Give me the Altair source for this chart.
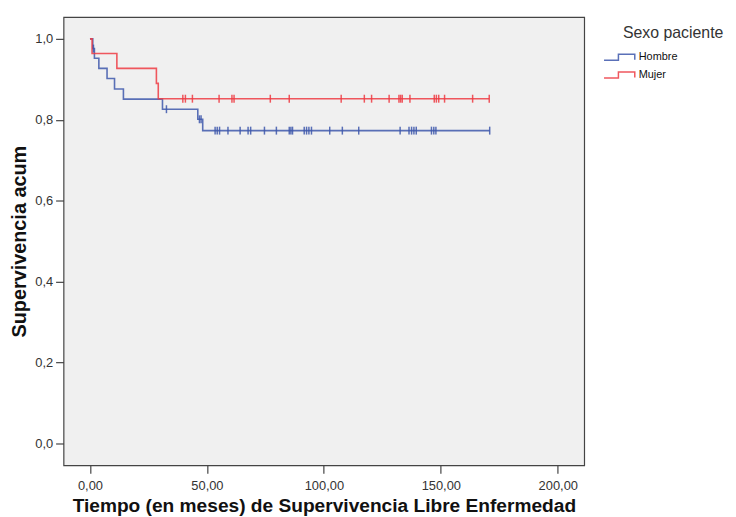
import altair as alt
import pandas as pd

# Kaplan-Meier step curves (time in months, cumulative survival)
groups = ["Hombre", "Mujer"]
legend_title = "Sexo paciente"
blue_t = [0, 1.2, 1.9, 3.8, 7.3, 10.5, 14.3, 31.0, 46.1, 48.2, 170.9]
blue_s = [1.0, 0.976, 0.952, 0.927, 0.902, 0.876, 0.851, 0.826, 0.801, 0.773, 0.773]
red_t = [0, 0.9, 11.5, 28.4, 29.2, 170.7]
red_s = [1.0, 0.964, 0.927, 0.890, 0.852, 0.852]

# censored observations (time)
blue_cens = [1.5, 32.7, 46.8, 47.5, 53.5, 54.4, 55.4, 59.0, 64.2, 67.6, 68.7, 74.6,
             79.7, 85.2, 85.9, 86.6, 91.6, 92.6, 93.6, 94.7, 102.5, 107.9, 114.9,
             132.6, 136.4, 137.5, 138.5, 139.5, 146.0, 147.0, 147.9, 170.9]
red_cens = [39.7, 40.8, 43.8, 55.2, 60.7, 61.6, 77.1, 85.2, 107.4, 117.3, 120.4,
            127.9, 132.1, 132.8, 133.5, 136.8, 147.2, 148.1, 149.1, 151.6, 163.6, 170.7]

x_ticks = [0, 50, 100, 150, 200]
y_ticks = [0.0, 0.2, 0.4, 0.6, 0.8, 1.0]


def surv_at(ts, ss, t):
    v = ss[0]
    for ti, si in zip(ts, ss):
        if ti <= t:
            v = si
    return v


curve_rows = []
for g, ts, ss in [("Hombre", blue_t, blue_s), ("Mujer", red_t, red_s)]:
    for i, (t, s) in enumerate(zip(ts, ss)):
        curve_rows.append({"grupo": g, "t": t, "s": s, "ord": i})
curves = pd.DataFrame(curve_rows)

cens_rows = []
for g, cs, ts, ss in [("Hombre", blue_cens, blue_t, blue_s), ("Mujer", red_cens, red_t, red_s)]:
    for c in cs:
        cens_rows.append({"grupo": g, "t": c, "s": surv_at(ts, ss, c)})
cens = pd.DataFrame(cens_rows)

FONT = "Liberation Sans"

xscale = alt.Scale(domain=[-11.3, 211.3], nice=False, zero=False)
yscale = alt.Scale(domain=[-0.055, 1.054], nice=False, zero=False)
cscale = alt.Scale(domain=groups, range=["#3e58ac", "#ee3b43"])

xaxis = alt.Axis(values=x_ticks, labelExpr="replace(format(datum.value, '.2f'), '.', ',')",
                 title="Tiempo (en meses) de Supervivencia Libre Enfermedad",
                 grid=False, domain=False, tickSize=8, tickColor="#444444", tickWidth=1.2,
                 labelPadding=6, labelFontSize=13, labelColor="#333333", labelFont=FONT,
                 labelFlush=False, titleFont=FONT, titleFontSize=19.3, titleFontWeight="bold",
                 titleColor="#111111", titlePadding=5)
yaxis = alt.Axis(values=y_ticks, labelExpr="replace(format(datum.value, '.1f'), '.', ',')",
                 title="Supervivencia acum",
                 grid=False, domain=False, tickSize=8, tickColor="#444444", tickWidth=1.2,
                 labelPadding=3, labelFontSize=13, labelColor="#333333", labelFont=FONT,
                 labelFlush=False, titleFont=FONT, titleFontSize=20, titleFontWeight="bold",
                 titleColor="#111111", titlePadding=5)

legend = alt.Legend(
    title=None, orient="none", legendX=544, legendY=34.5, padding=0,
    labelFont=FONT, labelFontSize=11, labelColor="#111111",
    symbolType="M-1,0.6H1.9V-0.6H5.2V0.5", symbolSize=100, symbolStrokeWidth=1.5,
    symbolFillColor="transparent", labelOffset=24, rowPadding=6,
)

lines = alt.Chart(curves).mark_line(interpolate="step-after", strokeWidth=1.6, opacity=0.85).encode(
    x=alt.X("t:Q", scale=xscale, axis=xaxis),
    y=alt.Y("s:Q", scale=yscale, axis=yaxis),
    color=alt.Color("grupo:N", scale=cscale, legend=legend),
    order="ord:Q",
)

ticks = alt.Chart(cens).mark_point(shape="M0,-1V1", size=64, filled=False, strokeWidth=1.5,
                                   opacity=0.85).encode(
    x=alt.X("t:Q", scale=xscale),
    y=alt.Y("s:Q", scale=yscale),
    color=alt.Color("grupo:N", scale=cscale, legend=legend),
)

title_txt = alt.Chart(pd.DataFrame({"txt": [legend_title]})).mark_text(
    font=FONT, fontSize=16, color="#333333", align="left", baseline="middle"
).encode(x=alt.value(564), y=alt.value(16), text="txt:N")

chart = alt.layer(lines, ticks, title_txt).properties(
    width=525, height=452,
    autosize=alt.AutoSizeParams(type="none"),
    padding={"left": 56, "top": 7, "right": 145, "bottom": 50},
    background="white",
).configure_view(fill="#f0f0f0", stroke="#444444", strokeWidth=1.2)

chart.save("out.html", embed_options={"renderer": "svg", "actions": False})
